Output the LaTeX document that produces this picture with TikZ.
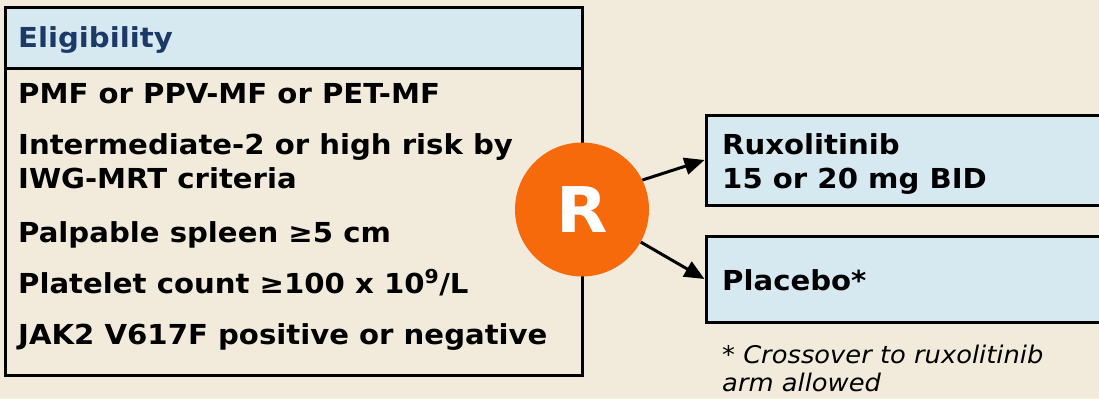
\documentclass[tikz,border=0pt]{standalone}
\usepackage{fontspec}
\setmainfont{DejaVu Sans}[FakeStretch=1.06]
\usetikzlibrary{arrows.meta}
\definecolor{bg}{HTML}{F2EBDC}
\definecolor{lblue}{HTML}{D6E8F0}
\definecolor{navy}{HTML}{1B3A68}
\definecolor{rorange}{HTML}{F76A0C}
\tikzset{
  box/.style={draw=black, line width=3pt, inner sep=0pt, rectangle},
  txt/.style={anchor=base west, inner sep=0pt, align=left, font=\bfseries\fontsize{27.5}{34}\selectfont},
  note/.style={anchor=base west, inner sep=0pt, align=left, font=\itshape\fontsize{24.3}{28}\selectfont},
  arr/.style={line width=3pt, -{Triangle[length=20pt,width=17pt]}},
}
\begin{document}
\begin{tikzpicture}[x=1pt,y=-1pt]
\useasboundingbox (0,0) rectangle (1099,399);
\clip (0,0) rectangle (1099,399);
\fill[bg] (0,0) rectangle (1099,399);
% eligibility box
\node[box, fill=bg, minimum width=577pt, minimum height=368pt] (elig) at (293.5,191) {};
\node[box, fill=lblue, minimum width=577pt, minimum height=61pt] (hdr) at (293.5,37.5) {};
\node[txt, text=navy] (t0) at (18,47) {Eligibility};
\node[txt] (t1) at (18,103) {PMF or PPV-MF or PET-MF};
\node[txt] (t2) at (18,188) {Intermediate-2 or high risk by\\IWG-MRT criteria};
\node[txt] (t3) at (18,242) {Palpable spleen ≥5 cm};
\node[txt] (t4) at (18,293) {Platelet count ≥100 x 10\textsuperscript{9}/L};
\node[txt] (t5) at (18,344) {JAK2 V617F positive or negative};
% arms
\node[box, fill=lblue, minimum width=409pt, minimum height=90pt] (rux) at (910.5,160) {};
\node[box, fill=lblue, minimum width=409pt, minimum height=86pt] (plac) at (910.5,279) {};
\node[txt] (r1) at (722,188) {Ruxolitinib\\15 or 20 mg BID};
\node[txt] (p1) at (722,290) {Placebo*};
\node[note] (fn) at (722,391) {* Crossover to ruxolitinib\\arm allowed};
% randomisation
\node[circle, fill=rorange, minimum size=134pt, inner sep=0pt, text=white,
      font=\bfseries\fontsize{63}{63}\selectfont] (R) at (582,209.5) {R};
\draw[arr] (R.26) -- (rux.west);
\draw[arr] (R.-29) -- (plac.west);
\end{tikzpicture}
\end{document}
